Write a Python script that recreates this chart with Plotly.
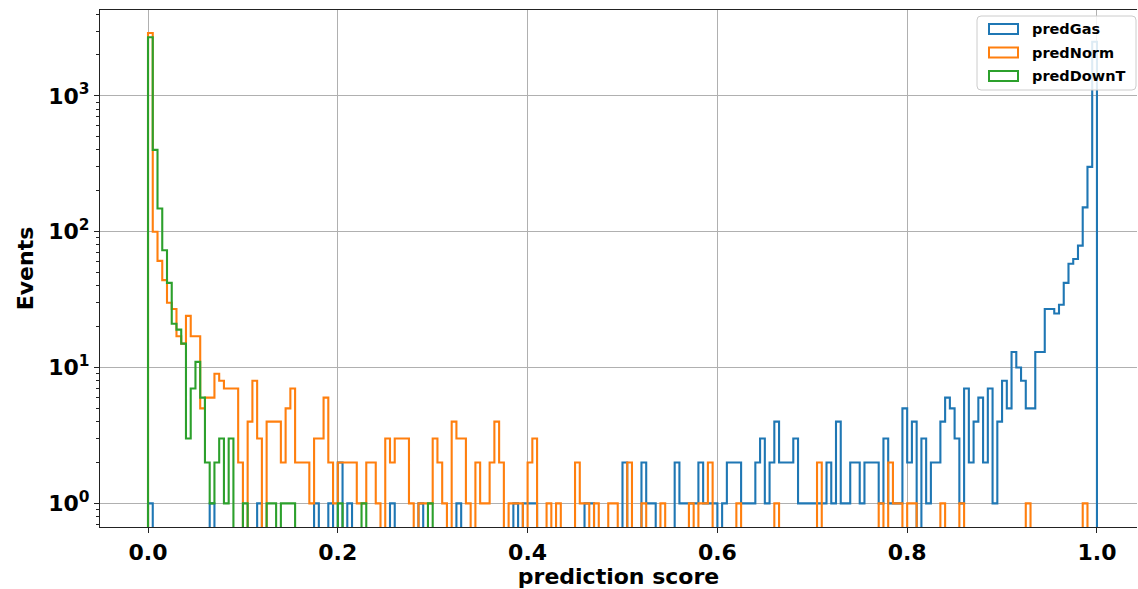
import numpy as np
import plotly.graph_objects as go

# Histogram binning shared by all three score distributions
n_bins = 200
score_min, score_max = 0.0, 1.0

# Events per bin (bin i covers [i/200, (i+1)/200))
pred_gas = [
    1, 0, 0, 0, 0, 0, 0, 0, 0, 0, 0, 0, 0, 1, 0, 0, 0, 0, 0, 0,
    0, 0, 0, 1, 0, 0, 0, 0, 0, 0, 0, 0, 0, 0, 0, 1, 0, 0, 1, 0,
    2, 0, 1, 0, 0, 0, 0, 0, 0, 0, 0, 1, 0, 0, 0, 0, 0, 1, 0, 0,
    0, 0, 0, 0, 0, 1, 0, 0, 0, 0, 0, 0, 0, 0, 0, 0, 0, 1, 0, 1,
    1, 1, 0, 0, 0, 0, 0, 0, 0, 0, 0, 0, 1, 1, 0, 0, 0, 0, 0, 0,
    2, 0, 0, 0, 2, 1, 1, 0, 0, 0, 0, 2, 1, 1, 1, 1, 2, 1, 1, 1,
    0, 1, 2, 2, 2, 1, 1, 1, 2, 3, 1, 2, 4, 2, 2, 2, 3, 1, 1, 1,
    1, 1, 1, 2, 1, 4, 1, 1, 2, 2, 1, 2, 2, 2, 1, 3, 1, 1, 1, 5,
    2, 4, 0, 3, 1, 2, 2, 4, 6, 5, 3, 1, 7, 2, 4, 6, 2, 7, 1, 4,
    8, 5, 13, 10, 8, 5, 5, 13, 13, 27, 27, 25, 29, 42, 58, 63, 79, 151, 300, 2500,
]
pred_norm = [
    2900, 100, 61, 44, 30, 27, 17, 15, 24, 17, 17, 5, 6, 6, 9, 8, 7, 7, 7, 2,
    0, 4, 8, 3, 0, 4, 4, 4, 2, 5, 7, 2, 2, 2, 1, 3, 3, 6, 2, 1,
    2, 2, 2, 2, 1, 1, 2, 2, 1, 0, 3, 2, 3, 3, 3, 1, 0, 1, 1, 1,
    3, 2, 1, 0, 4, 3, 3, 1, 0, 2, 1, 1, 2, 4, 2, 0, 1, 1, 1, 0,
    2, 3, 0, 0, 1, 0, 1, 0, 0, 0, 2, 1, 1, 0, 1, 0, 0, 1, 1, 0,
    0, 2, 0, 0, 1, 0, 0, 0, 1, 0, 0, 0, 0, 0, 1, 0, 1, 1, 2, 0,
    0, 0, 0, 0, 1, 0, 0, 0, 0, 0, 0, 0, 1, 0, 0, 0, 0, 0, 0, 0,
    0, 2, 0, 0, 0, 0, 0, 0, 0, 0, 0, 0, 0, 0, 1, 0, 2, 1, 1, 0,
    1, 1, 0, 0, 0, 0, 0, 1, 0, 0, 0, 1, 0, 0, 0, 0, 0, 0, 0, 0,
    0, 0, 0, 0, 0, 1, 0, 0, 0, 0, 0, 0, 0, 0, 0, 0, 0, 1, 0, 0,
]
pred_downt = [
    2700, 400, 148, 73, 42, 21, 19, 15, 3, 7, 11, 6, 2, 1, 2, 3, 1, 3, 0, 0,
    1, 0, 0, 0, 0, 1, 1, 0, 1, 1, 1, 0, 0, 0, 0, 0, 0, 0, 0, 0,
    1, 0, 0, 0, 0, 1, 0, 0, 0, 0, 0, 0, 0, 0, 0, 0, 0, 0, 0, 1,
    0, 0, 0, 0, 0, 0, 0, 0, 0, 0, 0, 0, 0, 0, 0, 0, 0, 0, 0, 0,
    0, 0, 0, 0, 0, 0, 0, 0, 0, 0, 0, 0, 0, 0, 0, 0, 0, 0, 0, 0,
    0, 0, 0, 0, 0, 0, 0, 0, 0, 0, 0, 0, 0, 0, 0, 0, 0, 0, 0, 0,
    0, 0, 0, 0, 0, 0, 0, 0, 0, 0, 0, 0, 0, 0, 0, 0, 0, 0, 0, 0,
    0, 0, 0, 0, 0, 0, 0, 0, 0, 0, 0, 0, 0, 0, 0, 0, 0, 0, 0, 0,
    0, 0, 0, 0, 0, 0, 0, 0, 0, 0, 0, 0, 0, 0, 0, 0, 0, 0, 0, 0,
    0, 0, 0, 0, 0, 0, 0, 0, 0, 0, 0, 0, 0, 0, 0, 0, 0, 0, 0, 0,
]

series_names = ["predGas", "predNorm", "predDownT"]
series_counts = [pred_gas, pred_norm, pred_downt]
series_colors = ["#1f77b4", "#ff7f0e", "#2ca02c"]

x_ticks = [0.0, 0.2, 0.4, 0.6, 0.8, 1.0]
y_ticks = [1, 10, 100, 1000]
y_tick_text = ["10<sup>0</sup>", "10<sup>1</sup>", "10<sup>2</sup>", "10<sup>3</sup>"]
y_minor_ticks = [m * 10.0 ** d for d in range(-1, 4) for m in range(2, 10)]

edges = np.linspace(score_min, score_max, n_bins + 1)
floor = 1e-3  # empty bins fall below the visible log range


def step_outline(counts):
    """Closed step outline of a histogram, like histtype='step'."""
    c = np.asarray(counts, dtype=float)
    c = np.where(c > 0, c, floor)
    x = np.concatenate([[edges[0]], edges[:-1], [edges[-1], edges[-1]]])
    y = np.concatenate([[floor], c, [c[-1], floor]])
    return x, y


fig = go.Figure()
for name, counts, color in zip(series_names, series_counts, series_colors):
    x, y = step_outline(counts)
    fig.add_trace(go.Scatter(
        x=x, y=y, name=name, mode="lines",
        line=dict(color=color, width=2.1, shape="hv"),
        hoverinfo="skip", showlegend=False,
    ))

# Figure geometry (pixels) used to place the legend box
W, H = 1138, 589
M_L, M_R, M_T, M_B = 100, 1, 10, 62
plot_w, plot_h = W - M_L - M_R, H - M_T - M_B


def px_x(px):
    return (px - M_L) / plot_w


def px_y(py):
    return (H - M_B - py) / plot_h


font_family = "DejaVu Sans"

# Legend: rounded frame, hollow patches and labels
shapes = []
annotations = []
box_l, box_r, box_t, box_b, rad = 977, 1136, 16, 90, 4
shapes.append(dict(
    type="path", xref="paper", yref="paper",
    path=(f"M {px_x(box_l + rad)} {px_y(box_t)} L {px_x(box_r - rad)} {px_y(box_t)} "
          f"Q {px_x(box_r)} {px_y(box_t)} {px_x(box_r)} {px_y(box_t + rad)} "
          f"L {px_x(box_r)} {px_y(box_b - rad)} "
          f"Q {px_x(box_r)} {px_y(box_b)} {px_x(box_r - rad)} {px_y(box_b)} "
          f"L {px_x(box_l + rad)} {px_y(box_b)} "
          f"Q {px_x(box_l)} {px_y(box_b)} {px_x(box_l)} {px_y(box_b - rad)} "
          f"L {px_x(box_l)} {px_y(box_t + rad)} "
          f"Q {px_x(box_l)} {px_y(box_t)} {px_x(box_l + rad)} {px_y(box_t)} Z"),
    fillcolor="rgba(255,255,255,0.85)", line=dict(color="#cccccc", width=1),
    layer="above",
))
row_centers = [29, 52.5, 76]
for name, color, yc in zip(series_names, series_colors, row_centers):
    shapes.append(dict(
        type="rect", xref="paper", yref="paper",
        x0=px_x(989), x1=px_x(1018), y0=px_y(yc + 5), y1=px_y(yc - 5),
        line=dict(color=color, width=2), fillcolor="rgba(0,0,0,0)",
        layer="above",
    ))
    annotations.append(dict(
        text=name, xref="paper", yref="paper",
        x=px_x(1030), y=px_y(yc), xanchor="left", yanchor="middle",
        showarrow=False,
        font=dict(family=font_family, size=14.5, color="black", weight="bold"),
    ))

axis_common = dict(
    showline=True, linecolor="#222222", linewidth=1.2,
    ticks="outside", ticklen=5, tickwidth=1.2, tickcolor="#222222",
    showgrid=True, gridcolor="#b0b0b0", gridwidth=1,
    zeroline=False,
    tickfont=dict(family=font_family, size=22, color="black", weight="bold"),
)

fig.update_layout(
    width=W, height=H,
    margin=dict(l=M_L, r=M_R, t=M_T, b=M_B),
    paper_bgcolor="white", plot_bgcolor="white",
    font=dict(family=font_family, color="black"),
    showlegend=False,
    shapes=shapes,
    annotations=annotations,
    xaxis=dict(
        range=[-0.0506, 1.0422],
        tickvals=x_ticks, tickformat=".1f",
        mirror=True,
        title=dict(text="prediction score", standoff=5,
                   font=dict(family=font_family, size=22, weight="bold")),
        **axis_common,
    ),
    yaxis=dict(
        type="log", range=[-0.174, 3.632],
        tickvals=y_ticks, ticktext=y_tick_text,
        minor=dict(tickmode="array", tickvals=y_minor_ticks,
                   ticks="outside", ticklen=3, tickwidth=1,
                   tickcolor="#222222", showgrid=False),
        title=dict(text="Events", standoff=8,
                   font=dict(family=font_family, size=22, weight="bold")),
        **axis_common,
    ),
)

fig.write_html("out.html")
